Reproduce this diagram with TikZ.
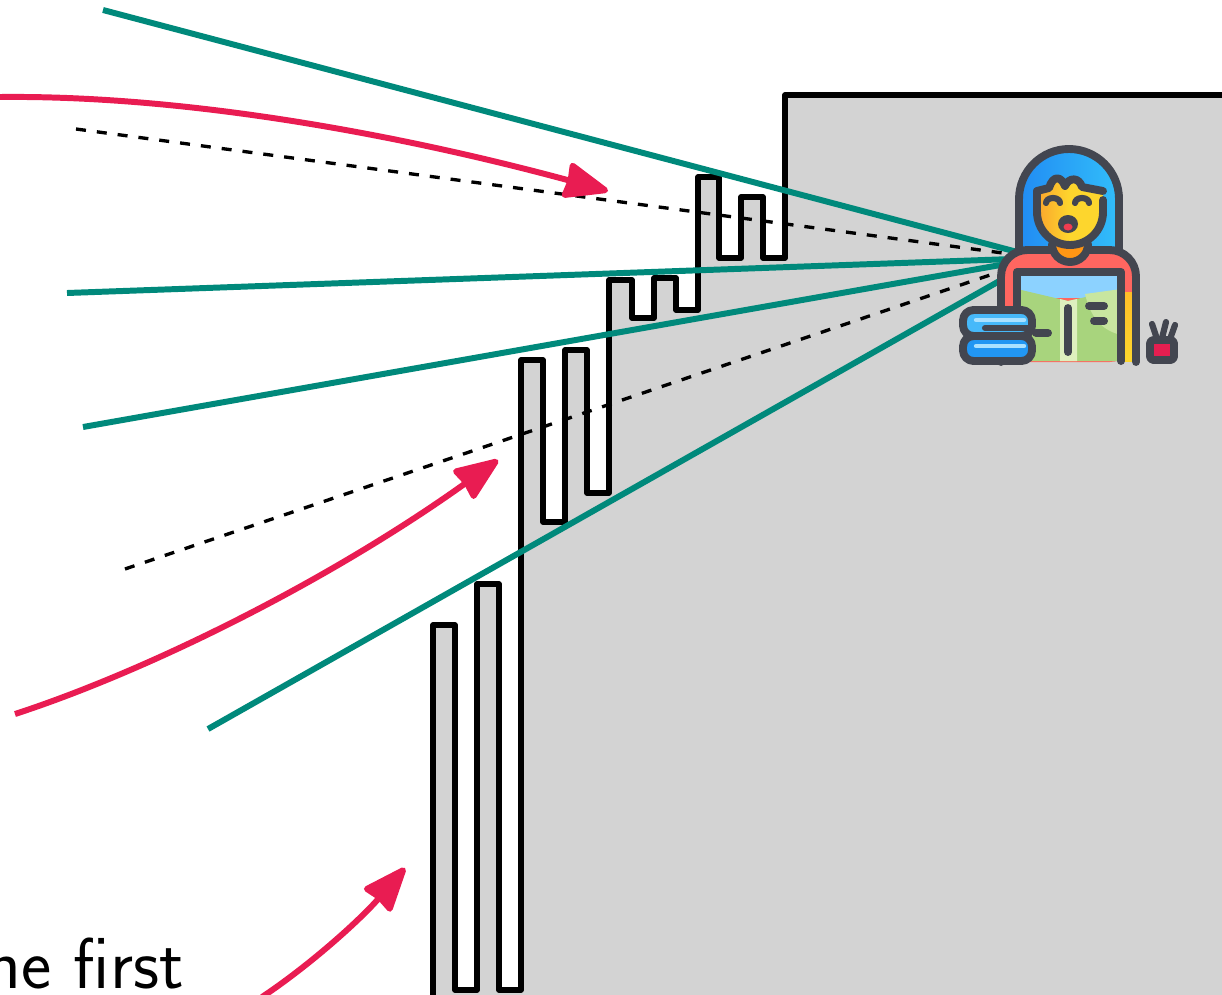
\documentclass[tikz,border=0pt]{standalone}
\usepackage{fontspec}
\usetikzlibrary{arrows.meta}
\definecolor{sightteal}{RGB}{0,137,123}
\definecolor{soundpink}{RGB}{233,28,82}
\definecolor{wallgray}{RGB}{211,211,211}
\definecolor{icondark}{RGB}{67,70,80}
\definecolor{hairblue}{RGB}{33,140,243}
\definecolor{haircyan}{RGB}{50,190,250}
\definecolor{faceyellow}{RGB}{253,214,45}
\definecolor{faceorange}{RGB}{250,165,45}
\definecolor{neckorange}{RGB}{255,150,20}
\definecolor{bodyred}{RGB}{255,102,96}
\definecolor{coverblue}{RGB}{140,210,255}
\definecolor{pagegreen}{RGB}{168,212,125}
\definecolor{pagelight}{RGB}{200,230,160}
\definecolor{pagepale}{RGB}{222,240,190}
\definecolor{striporange}{RGB}{255,190,40}
\definecolor{booktop}{RGB}{70,185,250}
\definecolor{bookbottom}{RGB}{33,150,243}
\definecolor{bookshine}{RGB}{170,225,255}
\definecolor{cupred}{RGB}{230,30,80}
\definecolor{mouthred}{RGB}{240,60,80}
\begin{document}
\begin{tikzpicture}[x=0.02cm,y=-0.02cm,
  wall/.style={draw=black,line width=3pt,line join=round,line cap=round},
  sight/.style={draw=sightteal,line width=3.4pt},
  ray/.style={draw=black,line width=1.9pt,dash pattern=on 0.2cm off 0.22cm},
  sound/.style={draw=soundpink,line width=3.4pt,
    -{Stealth[length=0.98cm,width=0.76cm,inset=0.04cm,round]}},
  iconline/.style={draw=icondark,line width=4.5pt,line cap=round,line join=round},
  caption/.style={anchor=base east,inner sep=0pt,
    font=\fontsize{41}{49}\selectfont\sffamily\addfontfeatures{Ligatures=CommonOff}}]
\useasboundingbox (0,0) rectangle (1222,994);
\clip (0,0) rectangle (1222,994);

% stepped wall, filled
\fill[wallgray] (433,1000) -- (433,625) -- (455,625) -- (455,990) -- (477,990)
  -- (477,584) -- (499,584) -- (499,990) -- (521,990) -- (521,360) -- (543,360)
  -- (543,522) -- (565,522) -- (565,350) -- (587,350) -- (587,493) -- (609,493)
  -- (609,280) -- (632,280) -- (632,318) -- (654,318) -- (654,278) -- (676,278)
  -- (676,310) -- (698,310) -- (698,177) -- (719,177) -- (719,258) -- (741,258)
  -- (741,197) -- (763,197) -- (763,258) -- (785,258) -- (785,95) -- (1230,95)
  -- (1230,1000) -- cycle;
\draw[wall] (433,1000) -- (433,625) -- (455,625) -- (455,990) -- (477,990)
  -- (477,584) -- (499,584) -- (499,990) -- (521,990) -- (521,360) -- (543,360)
  -- (543,522) -- (565,522) -- (565,350) -- (587,350) -- (587,493) -- (609,493)
  -- (609,280) -- (632,280) -- (632,318) -- (654,318) -- (654,278) -- (676,278)
  -- (676,310) -- (698,310) -- (698,177) -- (719,177) -- (719,258) -- (741,258)
  -- (741,197) -- (763,197) -- (763,258) -- (785,258) -- (785,95) -- (1230,95);

% viewpoint and the far ends of the sight lines
\coordinate (eye) at (1040,258);
\coordinate (s1) at (103,10);
\coordinate (s2) at (67,293);
\coordinate (s3) at (83,427);
\coordinate (s4) at (208,729);
\coordinate (d1) at (76,129);
\coordinate (d2) at (125,569);

\draw[sight] (s1) -- (eye);
\draw[sight] (s2) -- (eye);
\draw[sight] (s3) -- (eye);
\draw[sight] (s4) -- (eye);
\draw[ray] (d1) -- (eye);
\draw[ray] (d2) -- (eye);

% incoming sound
\coordinate (a1) at (0,97);
\coordinate (t1) at (608,191);
\coordinate (a2) at (15,714);
\coordinate (t2) at (498,460);
\coordinate (a3) at (262,997);
\coordinate (t3) at (405,868);
\draw[sound] (a1) .. controls (200,95) and (420,140) .. (t1);
\draw[sound] (a2) .. controls (150,670) and (330,580) .. (t2);
\draw[sound] (a3) .. controls (310,965) and (360,920) .. (t3);

\node[caption] (cap) at (184,988) {he first};

% reader
\shade[left color=hairblue,right color=haircyan]
  (1019,262) -- (1019,199) arc[start angle=180,end angle=360,radius=50] -- (1119,262) -- cycle;
\draw[iconline] (1019,250) -- (1019,199) arc[start angle=180,end angle=360,radius=50] -- (1119,250);

\fill[bodyred,rounded corners=15pt] (1001,362) -- (1001,250) -- (1136,250) -- (1136,362) -- cycle;
% open book and side strip
\fill[coverblue] (1017,272) rectangle (1121,298);
\fill[pagegreen] (1017,289) -- (1068,301) -- (1121,289) -- (1121,361) -- (1017,361) -- cycle;
\fill[pagelight] (1085,294) -- (1121,289) -- (1121,335) .. controls (1100,330) and (1090,315) .. cycle;
\fill[pagepale] (1060,299) -- (1068,301) -- (1077,299) -- (1077,361) -- (1060,361) -- cycle;
\shade[top color=striporange,bottom color=faceyellow] (1121,292) rectangle (1136,361);
\draw[iconline,rounded corners=15pt] (1001,362) -- (1001,250) -- (1136,250) -- (1136,362);
\draw[iconline] (1017,361) -- (1017,272) -- (1121,272) -- (1121,361);
\draw[iconline] (1068,308) -- (1068,352);
\draw[iconline] (1089,306) -- (1104,306);
\draw[iconline] (1094,321) -- (1104,321);
\draw[iconline] (1036,333) -- (1048,333);

% neck and face
\filldraw[fill=neckorange,iconline] (1052,244) arc[start angle=180,end angle=0,radius=18];
\shade[left color=faceorange,right color=faceyellow,middle color=faceyellow]
  (1037,191) -- (1049,188) .. controls (1053,175) and (1061,176) .. (1065,186)
  .. controls (1069,177) and (1079,177) .. (1082,187) -- (1103,191) -- (1103,212)
  arc[start angle=0,end angle=180,radius=33] -- cycle;
\draw[iconline] (1037,191) -- (1037,212) arc[start angle=180,end angle=0,radius=33] -- (1103,200);
\draw[iconline] (1037,191) -- (1049,188) .. controls (1053,175) and (1061,176) .. (1065,186)
  .. controls (1069,177) and (1079,177) .. (1082,187) -- (1103,191);
\draw[iconline,line width=3.5pt] (1046,203) arc[start angle=180,end angle=360,x radius=7,y radius=5];
\draw[iconline,line width=3.5pt] (1075,203) arc[start angle=180,end angle=360,x radius=7,y radius=5];
\fill[icondark] (1068,224) ellipse[x radius=10,y radius=9];
\fill[mouthred] (1068,227) ellipse[x radius=4.5,y radius=3.5];

% stack of books
\filldraw[fill=bookbottom,iconline,rounded corners=6pt] (1032,336) -- (963,336) -- (963,361) -- (1032,361) -- cycle;
\filldraw[fill=booktop,iconline,rounded corners=6pt] (1032,310) -- (963,310) -- (963,336) -- (1032,336) -- cycle;
\draw[bookshine,line width=2.5pt,line cap=round] (976,320) -- (1024,320);
\draw[bookshine,line width=2.5pt,line cap=round] (976,346) -- (1024,346);
\draw[iconline,line width=3.5pt] (985,328) -- (1030,328);

% pencil cup
\draw[iconline,line width=3.5pt] (1152,324) -- (1157,339);
\draw[iconline,line width=3.5pt] (1166,322) -- (1162,338);
\draw[iconline,line width=3.5pt] (1175,325) -- (1170,339);
\filldraw[fill=cupred,iconline,rounded corners=2pt] (1150,340) rectangle (1174,360);
\end{tikzpicture}
\end{document}
